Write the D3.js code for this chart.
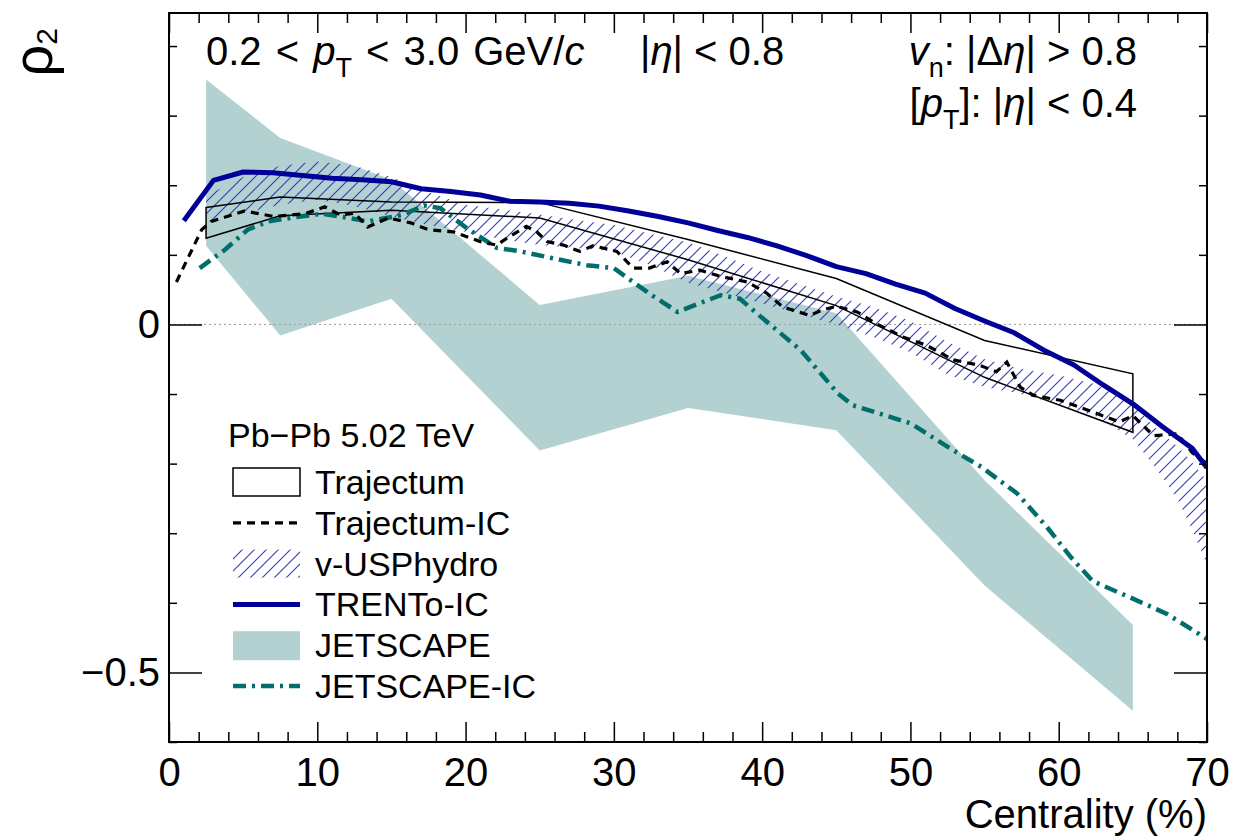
<!DOCTYPE html>
<html lang="en">
<head>
<meta charset="UTF-8">
<title>rho2 vs centrality</title>
<style>
  body { margin: 0; background: #fff; }
  svg { display: block; font-family: "Liberation Sans", Arial, Helvetica, sans-serif; }
  .tick text { font-size: 40px; fill: #000; }
  .tick line { stroke: #000; stroke-width: 1.5; }
</style>
</head>
<body>
<svg id="chart" width="1251" height="837"></svg>
<script src="https://cdn.jsdelivr.net/npm/d3@7"></script>
<script>
// model bands, 8 centrality classes
const binCent = [2.5, 7.5, 15, 25, 35, 45, 55, 65];
const trajHi = [0.168, 0.183, 0.176, 0.175, 0.122, 0.066, -0.023, -0.071];
const trajLo = [0.124, 0.156, 0.164, 0.153, 0.093, 0.027, -0.076, -0.155];
const jetHi = [0.352, 0.268, 0.208, 0.028, 0.070, 0.016, -0.224, -0.432];
const jetLo = [0.113, -0.016, 0.037, -0.181, -0.120, -0.152, -0.375, -0.555];

// v-USPhydro band
const hydroCent = [2.5, 5, 7.5, 10, 12.5, 15, 17.5, 20, 22.5, 25, 27.5, 30, 32.5, 35, 37.5, 40,
  42.5, 45, 47.5, 50, 52.5, 55, 57.5, 60, 62.5, 65, 66.5, 68, 69, 70];
const hydroHi = [0.185, 0.212, 0.228, 0.234, 0.228, 0.212, 0.190, 0.172, 0.165, 0.158, 0.150, 0.143,
  0.130, 0.118, 0.098, 0.076, 0.058, 0.040, 0.025, 0.005, -0.025, -0.050, -0.064, -0.073, -0.086,
  -0.115, -0.148, -0.175, -0.198, -0.225];
const hydroLo = [0.146, 0.160, 0.172, 0.179, 0.170, 0.155, 0.143, 0.133, 0.122, 0.114, 0.110, 0.105,
  0.085, 0.060, 0.045, 0.030, 0.015, 0.000, -0.018, -0.040, -0.072, -0.090, -0.100, -0.115, -0.132,
  -0.165, -0.205, -0.250, -0.295, -0.345];

// TRENTo-IC
const trentoCent = [1, 3, 5, 7, 9, 11, 13, 15, 17, 19, 21, 23, 25, 27, 29, 31, 33, 35, 37, 39, 41,
  43, 45, 47, 49, 51, 53, 55, 57, 59, 61, 63, 65, 67, 69, 70];
const trentoVal = [0.149, 0.207, 0.219, 0.218, 0.214, 0.210, 0.208, 0.205, 0.195, 0.191, 0.186, 0.177,
  0.176, 0.174, 0.170, 0.163, 0.155, 0.146, 0.135, 0.125, 0.113, 0.099, 0.083, 0.073, 0.058, 0.045,
  0.023, 0.005, -0.012, -0.037, -0.058, -0.087, -0.114, -0.147, -0.178, -0.206];

// Trajectum-IC
const trajIcCent = [0.5, 2.2, 2.85, 5.1, 7.1, 9.15, 10.5, 11.6, 12.5, 13.4, 14.8, 16.3, 17.5, 19.2,
  21.0, 22.1, 22.8, 24.1, 24.8, 25.5, 26.6, 27.7, 28.6, 30.2, 31.3, 32.4, 33.6, 34.5, 35.8, 37.2,
  39.0, 40.3, 41.4, 43.2, 44.1, 45.0, 46.4, 47.7, 49.5, 51.1, 52.9, 54.7, 55.8, 56.5, 57.4, 58.3,
  60.1, 61.7, 63.2, 64.1, 65.0, 66.4, 68.0, 69.0, 70.0];
const trajIcVal = [0.061, 0.136, 0.148, 0.163, 0.155, 0.159, 0.169, 0.157, 0.160, 0.140, 0.153, 0.146,
  0.136, 0.133, 0.119, 0.114, 0.124, 0.141, 0.133, 0.119, 0.114, 0.105, 0.113, 0.105, 0.081, 0.081,
  0.090, 0.073, 0.078, 0.069, 0.061, 0.045, 0.025, 0.013, 0.021, 0.026, 0.018, 0.001, -0.018, -0.030,
  -0.051, -0.059, -0.068, -0.054, -0.090, -0.102, -0.109, -0.121, -0.133, -0.140, -0.131, -0.160,
  -0.157, -0.184, -0.200];

// JETSCAPE-IC
const jetIcCent = [2.07, 3.75, 5.3, 6.7, 8.5, 10.3, 12.1, 13.4, 15.7, 17.2, 18.3, 20.1, 22.1, 23.7,
  25.9, 28.2, 30.0, 31.1, 32.7, 34.3, 35.5, 37.2, 38.5, 39.8, 42.6, 45.1, 46.1, 50.0, 52.9, 54.8,
  57.2, 59.2, 60.8, 62.3, 65.0, 67.3, 70.0];
const jetIcVal = [0.081, 0.107, 0.136, 0.148, 0.154, 0.159, 0.153, 0.148, 0.157, 0.171, 0.167, 0.138,
  0.110, 0.105, 0.095, 0.085, 0.081, 0.064, 0.040, 0.018, 0.028, 0.042, 0.037, 0.013, -0.037, -0.099,
  -0.116, -0.142, -0.181, -0.205, -0.243, -0.291, -0.334, -0.369, -0.394, -0.416, -0.452];

const legendLabels = ["Trajectum", "Trajectum-IC", "v-USPhydro", "TRENTo-IC", "JETSCAPE", "JETSCAPE-IC"];

const svg = d3.select("#chart");
const L = 169, R = 1207, T = 13, B = 742;
const x = d3.scaleLinear().domain([0, 70]).range([L, R]);
const y = d3.scaleLinear().domain([-0.6, 0.4475]).range([B, T]);

const blue = "#000099", teal = "#006e6a", jetFill = "#b3d1d1", hatchCol = "#3535d0";

const defs = svg.append("defs");
defs.append("clipPath").attr("id", "plotClip")
  .append("rect").attr("x", L).attr("y", T).attr("width", R - L).attr("height", B - T);
const pat = defs.append("pattern").attr("id", "hatch")
  .attr("patternUnits", "userSpaceOnUse").attr("width", 12).attr("height", 12);
pat.append("path").attr("d", "M0,12 L12,0 M-3,3 L3,-3 M9,15 L15,9")
  .attr("stroke", hatchCol).attr("stroke-width", 1.1);

const plot = svg.append("g").attr("clip-path", "url(#plotClip)");

const band = (cs, hi, lo) => d3.area()
  .x((d, i) => x(cs[i])).y0((d, i) => y(lo[i])).y1((d, i) => y(hi[i]))(cs);
const line = (cs, vs) => d3.line().x((d, i) => x(cs[i])).y((d, i) => y(vs[i]))(cs);

// JETSCAPE band
plot.append("path").attr("d", band(binCent, jetHi, jetLo)).attr("fill", jetFill);

// zero line
plot.append("line").attr("x1", L).attr("x2", R).attr("y1", y(0)).attr("y2", y(0))
  .attr("stroke", "#999").attr("stroke-width", 1).attr("stroke-dasharray", "2,3");

// v-USPhydro
plot.append("path").attr("d", band(hydroCent, hydroHi, hydroLo)).attr("fill", "url(#hatch)");

// Trajectum box
plot.append("path").attr("d", band(binCent, trajHi, trajLo))
  .attr("fill", "none").attr("stroke", "#000").attr("stroke-width", 1.5);

// JETSCAPE-IC
plot.append("path").attr("d", line(jetIcCent, jetIcVal)).attr("fill", "none")
  .attr("stroke", teal).attr("stroke-width", 4.5).attr("stroke-dasharray", "13,6,3,6");

// Trajectum-IC
plot.append("path").attr("d", line(trajIcCent, trajIcVal)).attr("fill", "none")
  .attr("stroke", "#000").attr("stroke-width", 3.2).attr("stroke-dasharray", "8,6");

// TRENTo-IC
plot.append("path").attr("d", line(trentoCent, trentoVal)).attr("fill", "none")
  .attr("stroke", blue).attr("stroke-width", 5).attr("stroke-linejoin", "round");

// axes
const xMajor = d3.range(0, 71, 10), xMinor = d3.range(0, 71, 2).filter(v => v % 10 !== 0);
const yMajor = [0, -0.5], yMinor = [-0.6, -0.4, -0.3, -0.2, -0.1, 0.1, 0.2, 0.3, 0.4];

svg.append("g").attr("transform", `translate(0,${B})`)
  .call(d3.axisBottom(x).tickValues(xMajor).tickSize(-20).tickPadding(16).tickFormat(d3.format("d")));
svg.append("g").attr("transform", `translate(0,${B})`)
  .call(d3.axisBottom(x).tickValues(xMinor).tickSize(-10).tickFormat(""));
svg.append("g").attr("transform", `translate(0,${T})`)
  .call(d3.axisTop(x).tickValues(xMajor).tickSize(-20).tickFormat(""));
svg.append("g").attr("transform", `translate(0,${T})`)
  .call(d3.axisTop(x).tickValues(xMinor).tickSize(-10).tickFormat(""));

svg.append("g").attr("transform", `translate(${L},0)`)
  .call(d3.axisLeft(y).tickValues(yMajor).tickSize(-33).tickPadding(9).tickFormat(d3.format("")));
svg.append("g").attr("transform", `translate(${L},0)`)
  .call(d3.axisLeft(y).tickValues(yMinor).tickSize(-8).tickFormat(""));
svg.append("g").attr("transform", `translate(${R},0)`)
  .call(d3.axisRight(y).tickValues(yMajor).tickSize(-33).tickFormat(""));
svg.append("g").attr("transform", `translate(${R},0)`)
  .call(d3.axisRight(y).tickValues(yMinor).tickSize(-8).tickFormat(""));
svg.selectAll(".domain").remove();

svg.append("rect").attr("x", L).attr("y", T).attr("width", R - L).attr("height", B - T)
  .attr("fill", "none").attr("stroke", "#000").attr("stroke-width", 2);

// axis titles
svg.append("text").attr("x", R).attr("y", 828).attr("text-anchor", "end")
  .attr("font-size", 40).text("Centrality (%)");
const yt = svg.append("text").attr("transform", "translate(52,28) rotate(-90)")
  .attr("text-anchor", "end").attr("font-size", 56);
yt.append("tspan").text("ρ");
yt.append("tspan").attr("font-size", 30).attr("dy", 5).text("2");

// header texts
function rich(xp, yp, anchor, parts, ws) {
  const t = svg.append("text").attr("x", xp).attr("y", yp).attr("text-anchor", anchor)
    .attr("font-size", 40).attr("xml:space", "preserve").attr("word-spacing", ws || 0);
  let shift = 0;
  parts.forEach(p => {
    const s = t.append("tspan").text(p.s);
    if (p.i) s.attr("font-style", "italic");
    const want = p.sub ? 12 : 0;
    if (want !== shift) { s.attr("dy", want - shift); shift = want; }
    if (p.sub) s.attr("font-size", 27);
  });
  return t;
}
rich(206, 65, "start", [{s: "0.2 < "}, {s: "p", i: 1}, {s: "T", sub: 1}, {s: " < 3.0 GeV/"}, {s: "c", i: 1}], 3);
rich(640, 65, "start", [{s: "|"}, {s: "η", i: 1}, {s: "| < 0.8"}]);
rich(1137, 65, "end", [{s: "v", i: 1}, {s: "n", sub: 1}, {s: ": |Δ"}, {s: "η", i: 1}, {s: "| > 0.8"}]);
rich(1137, 117, "end", [{s: "["}, {s: "p", i: 1}, {s: "T", sub: 1}, {s: "]: |"}, {s: "η", i: 1}, {s: "| < 0.4"}]);

// legend
const lg = svg.append("g");
lg.append("text").attr("x", 228).attr("y", 447).attr("font-size", 34).text("Pb\u2212Pb 5.02 TeV");
const lx0 = 233, lx1 = 300, rowY = d3.range(6).map(i => 482 + i * 40.8);
lg.selectAll("text.entry").data(legendLabels).join("text").attr("class", "entry")
  .attr("x", 315).attr("y", (d, i) => rowY[i] + 12).attr("font-size", 34).text(d => d);
lg.append("rect").attr("x", lx0).attr("y", rowY[0] - 14).attr("width", lx1 - lx0).attr("height", 28)
  .attr("fill", "none").attr("stroke", "#000").attr("stroke-width", 1.5);
lg.append("line").attr("x1", lx0).attr("x2", lx1).attr("y1", rowY[1]).attr("y2", rowY[1])
  .attr("stroke", "#000").attr("stroke-width", 3.2).attr("stroke-dasharray", "8,6");
lg.append("rect").attr("x", lx0).attr("y", rowY[2] - 14).attr("width", lx1 - lx0).attr("height", 28)
  .attr("fill", "url(#hatch)");
lg.append("line").attr("x1", lx0).attr("x2", lx1).attr("y1", rowY[3]).attr("y2", rowY[3])
  .attr("stroke", blue).attr("stroke-width", 5);
lg.append("rect").attr("x", lx0).attr("y", rowY[4] - 14).attr("width", lx1 - lx0).attr("height", 29)
  .attr("fill", jetFill);
lg.append("line").attr("x1", lx0).attr("x2", lx1).attr("y1", rowY[5]).attr("y2", rowY[5])
  .attr("stroke", teal).attr("stroke-width", 4.5).attr("stroke-dasharray", "13,6,3,6");
</script>
</body>
</html>
